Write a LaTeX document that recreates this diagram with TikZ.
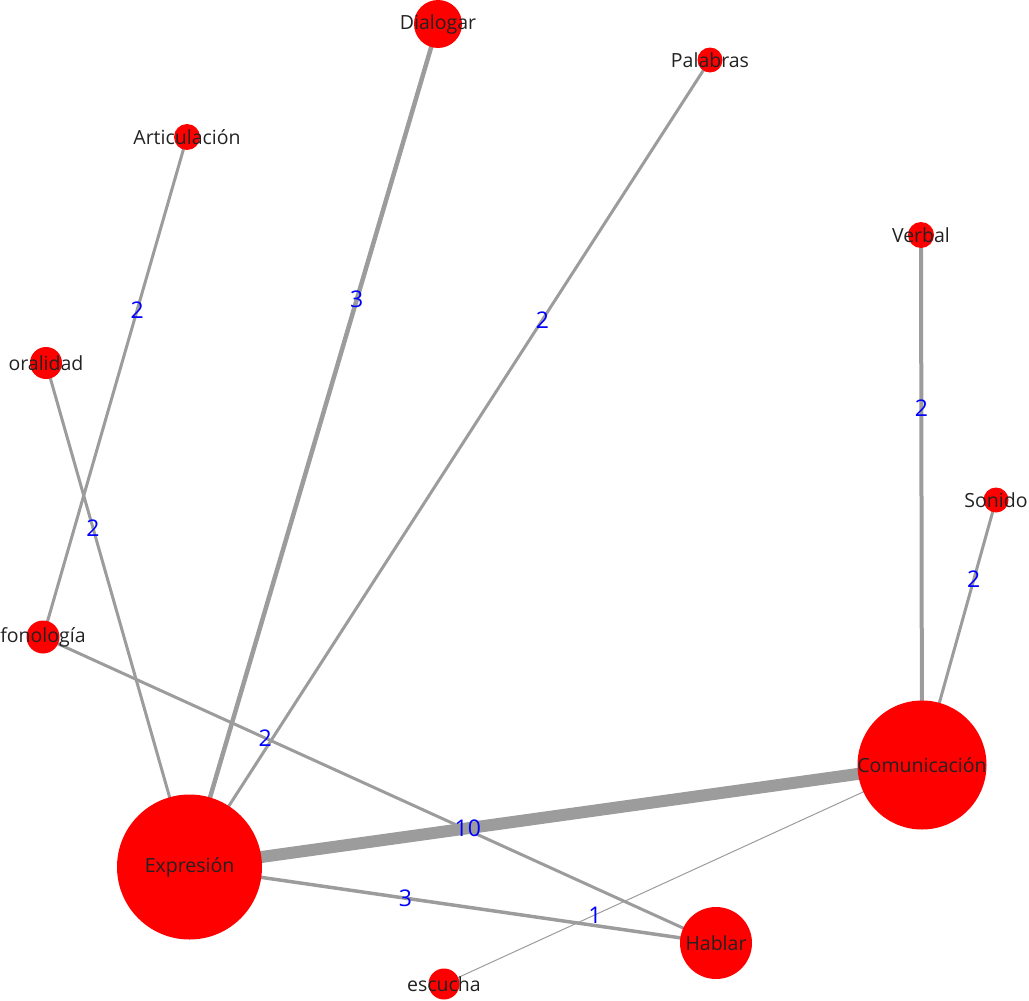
\documentclass[tikz,border=0pt]{standalone}
\usepackage{fontspec}
\setmainfont{Open Sans}
\pgfdeclarelayer{bg}
\pgfsetlayers{bg,main}
\definecolor{edgegray}{HTML}{9C9C9C}
\definecolor{txtdark}{HTML}{222222}
\begin{document}
\begin{tikzpicture}[x=1pt,y=-1pt,
  vert/.style={circle,fill=red,draw=none,inner sep=0pt,minimum size=#1},
  lbl/.style={text=txtdark,font=\fontsize{19.5}{22}\selectfont,inner sep=0pt},
  link/.style={draw=edgegray,line width=#1},
  wlab/.style={text=blue,font=\fontsize{23}{26}\selectfont,inner sep=0pt}]
\useasboundingbox (0,0) rectangle (1029,1001);
\node[vert=48pt,label={[lbl]center:Dialogar}] (dia) at (438,24) {};
\node[vert=25pt,label={[lbl]center:Palabras}] (pal) at (710,60) {};
\node[vert=26pt,label={[lbl]center:Articulación}] (art) at (187,137) {};
\node[vert=26pt,label={[lbl]center:Verbal}] (ver) at (921,235) {};
\node[vert=32pt,label={[lbl]center:oralidad}] (ora) at (46,363) {};
\node[vert=25pt,label={[lbl]center:Sonido}] (son) at (996,500) {};
\node[vert=33pt,label={[lbl]center:fonología}] (fon) at (43,637) {};
\node[vert=129pt,label={[lbl]center:Comunicación}] (com) at (922,765) {};
\node[vert=145pt,label={[lbl]center:Expresión}] (exp) at (189.5,867) {};
\node[vert=72pt,label={[lbl]center:Hablar}] (hab) at (716,943) {};
\node[vert=31pt,label={[lbl]center:escucha}] (esc) at (444,984) {};
\begin{pgfonlayer}{bg}
\draw[link=4.5pt] (dia.center) -- node[wlab,pos=0.327]{3} (exp.center);
\draw[link=3pt] (pal.center) -- node[wlab,pos=0.322]{2} (exp.center);
\draw[link=3pt] (art.center) -- node[wlab,pos=0.346]{2} (fon.center);
\draw[link=3pt] (ora.center) -- node[wlab,pos=0.327]{2} (exp.center);
\draw[link=3pt] (fon.center) -- node[wlab,pos=0.33]{2} (hab.center);
\draw[link=4pt] (ver.center) -- node[wlab,pos=0.326]{2} (com.center);
\draw[link=3pt] (son.center) -- node[wlab,pos=0.3]{2} (com.center);
\draw[link=12pt] (exp.center) -- node[wlab,pos=0.38]{10} (com.center);
\draw[link=3.5pt] (exp.center) -- node[wlab,pos=0.41]{3} (hab.center);
\draw[link=1pt] (esc.center) -- node[wlab,pos=0.316]{1} (com.center);
\end{pgfonlayer}
\end{tikzpicture}
\end{document}
